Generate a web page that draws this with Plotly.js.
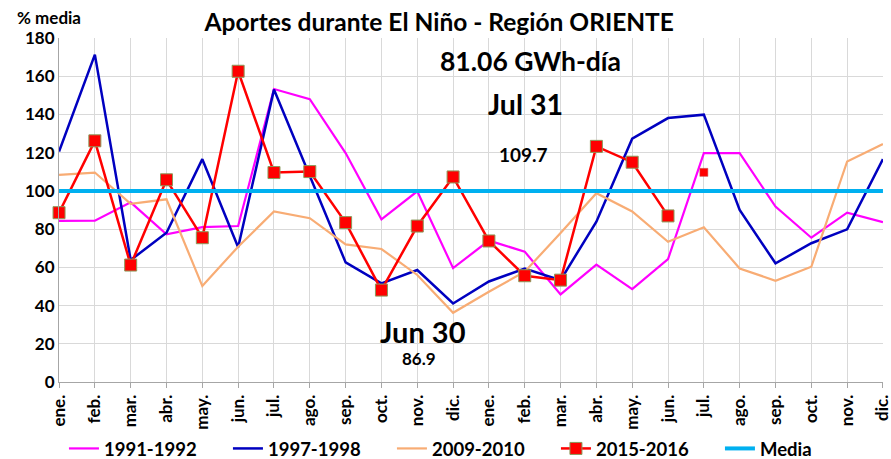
<!DOCTYPE html>
<html>
<head>
<meta charset="utf-8">
<script src="https://cdn.plot.ly/plotly-3.0.1.min.js"></script>
<style>html,body{margin:0;padding:0;background:#fff;}#chart{width:891px;height:459px;}</style>
</head>
<body>
<div id="chart"></div>
<script>
const months = ["ene.","feb.","mar.","abr.","may.","jun.","jul.","ago.","sep.","oct.","nov.","dic.",
                "ene.","feb.","mar.","abr.","may.","jun.","jul.","ago.","sep.","oct.","nov.","dic."];
const s1991 = [84.3,84.4,94,77.3,81,81.6,153.3,148,119.8,85.1,99.8,59.6,74,68.2,45.8,61.4,48.6,64.3,119.8,119.8,91.8,75.5,88.6,83.6];
const s1997 = [120.6,171.3,63.8,78.1,116.6,70.5,153,107.5,62.6,51.6,58.6,41.1,52.6,59.4,53.3,83.9,127.3,138.1,139.9,90,62.1,72.6,79.9,116.6];
const s2009 = [108.4,109.6,93.2,95.6,50.2,70.8,89.2,85.7,72,69.6,56,36.2,47.2,57.7,78,98.8,89.2,73.4,81,59.4,53,60.3,115.4,124.5];
const s2015 = [88.6,126.2,61.2,105.8,75.5,162.6,109.6,110.1,83.4,48.1,81.6,107.3,73.8,55.6,53.3,123.3,115,86.9];
const s2015Extra = [109.7];   // jul. (2nd year), isolated point
const media = months.map(() => 100);
const seriesNames = ["1991-1992","1997-1998","2009-2010","2015-2016","Media"];

const xs = months.map((m,i) => i);
const font = "Lato, 'Open Sans', sans-serif";

const traces = [
  {x: xs, y: s1991, name: seriesNames[0], mode: "lines", line: {color: "#ff00ff", width: 2.2}},
  {x: xs, y: s1997, name: seriesNames[1], mode: "lines", line: {color: "#0000c0", width: 2.5}},
  {x: xs, y: s2009, name: seriesNames[2], mode: "lines", line: {color: "#f8ac74", width: 2.2}},
  {x: xs.slice(0, s2015.length), y: s2015, name: seriesNames[3], mode: "lines+markers",
   line: {color: "#ff0000", width: 2.5},
   marker: {symbol: "square", size: 12, color: "#ff0000", line: {color: "#8a9a5b", width: 1}},
   cliponaxis: false},
  {x: [s2015.length], y: s2015Extra, name: seriesNames[3], mode: "markers", showlegend: false,
   marker: {symbol: "square", size: 8, color: "#ff0000", line: {color: "#c0504d", width: 0.5}},
   cliponaxis: false},
  {x: xs, y: media, name: seriesNames[4], mode: "lines", line: {color: "#00b0f0", width: 4}}
];
const layout = {
  width: 891, height: 459,
  margin: {l: 59, r: 8, t: 38, b: 77},
  paper_bgcolor: "#ffffff", plot_bgcolor: "#ffffff",
  font: {family: font, color: "#000", size: 14},
  showlegend: true,
  legend: {orientation: "h", x: 0.006, xanchor: "left", yref: "container", y: 0.022, yanchor: "middle",
           bgcolor: "rgba(0,0,0,0)",
           font: {family: font, size: 18.5, color: "#000", weight: "bold"},
           entrywidth: 119, entrywidthmode: "pixels", traceorder: "normal"},
  title: {text: "Aportes durante El Niño - Región ORIENTE", x: 0.493, xanchor: "center", y: 0.952, yanchor: "middle",
          font: {family: font, size: 24.5, color: "#000", weight: "bold"}},
  xaxis: {range: [-0.001, 23.001], tickvals: xs, ticktext: months, tickangle: -90,
          ticklabeloverflow: "allow",
          tickfont: {family: font, size: 17, color: "#000", weight: "bold"},
          showgrid: true, gridcolor: "#d9d9d9", gridwidth: 1,
          showline: true, linecolor: "#a6a6a6", linewidth: 1,
          ticks: "outside", ticklen: 5, tickcolor: "#a6a6a6", zeroline: false, fixedrange: true},
  yaxis: {range: [0, 180], dtick: 20, tickfont: {family: font, size: 17, color: "#000", weight: "bold"},
          showgrid: true, gridcolor: "#d9d9d9", gridwidth: 1,
          showline: true, linecolor: "#a6a6a6", linewidth: 1, ticks: "", zeroline: false, fixedrange: true},
  annotations: [
    {text: "% media", xref: "paper", yref: "paper", x: -0.0534, y: 1.06, xanchor: "left", yanchor: "middle",
     showarrow: false, font: {family: font, size: 17, color: "#000", weight: "bold"}},
    {text: "81.06 GWh-día", xref: "paper", yref: "paper", x: 0.572, y: 0.933, xanchor: "center", yanchor: "middle",
     showarrow: false, font: {family: font, size: 26.5, color: "#000", weight: "bold"}},
    {text: "Jul 31", xref: "paper", yref: "paper", x: 0.566, y: 0.808, xanchor: "center", yanchor: "middle",
     showarrow: false, font: {family: font, size: 28.5, color: "#000", weight: "bold"}},
    {text: "109.7", xref: "paper", yref: "paper", x: 0.564, y: 0.661, xanchor: "center", yanchor: "middle",
     showarrow: false, font: {family: font, size: 19, color: "#000", weight: "bold"}},
    {text: "Jun 30", xref: "paper", yref: "paper", x: 0.442, y: 0.148, xanchor: "center", yanchor: "middle",
     showarrow: false, font: {family: font, size: 29, color: "#000", weight: "bold"}},
    {text: "86.9", xref: "paper", yref: "paper", x: 0.437, y: 0.068, xanchor: "center", yanchor: "middle",
     showarrow: false, font: {family: font, size: 17, color: "#000", weight: "bold"}}
  ]
};
Plotly.newPlot("chart", traces, layout, {displayModeBar: false, staticPlot: true});
</script>
</body>
</html>
